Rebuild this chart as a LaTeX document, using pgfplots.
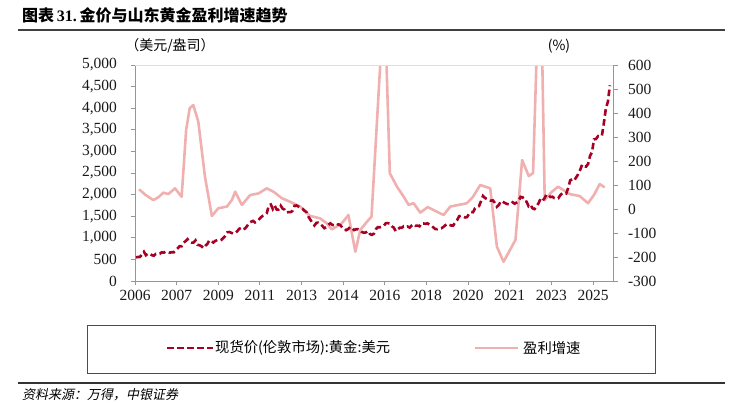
\documentclass[border=0pt]{standalone}
\usepackage{fontspec}
\setmainfont{Liberation Serif}
\newfontfamily\cjk{Noto Sans CJK SC}
\newfontfamily\cjkit{Noto Sans CJK SC}[FakeSlant=0.2]
\usepackage{pgfplots}
\usepackage{pgfplotstable}
\pgfplotsset{compat=1.18}
\definecolor{goldred}{RGB}{166,0,36}
\definecolor{pinkl}{RGB}{240,176,176}
\definecolor{axgray}{RGB}{150,150,150}

\pgfplotstableread[row sep=\\]{
p\\
549\\555\\557\\610\\676\\596\\633\\632\\598\\585\\627\\629\\
631\\665\\655\\680\\668\\656\\665\\665\\712\\754\\806\\803\\
889\\922\\968\\909\\888\\889\\940\\839\\829\\806\\760\\816\\
858\\943\\924\\890\\928\\946\\934\\949\\996\\1043\\1127\\1134\\
1118\\1095\\1113\\1148\\1205\\1232\\1193\\1215\\1271\\1342\\1370\\1391\\
1356\\1372\\1424\\1474\\1510\\1528\\1572\\1756\\1772\\1665\\1739\\1652\\
1656\\1742\\1673\\1650\\1585\\1596\\1594\\1626\\1744\\1747\\1721\\1688\\
1670\\1627\\1593\\1487\\1414\\1343\\1286\\1347\\1349\\1316\\1275\\1222\\
1244\\1300\\1336\\1299\\1288\\1279\\1311\\1296\\1239\\1222\\1176\\1200\\
1251\\1227\\1179\\1198\\1199\\1181\\1131\\1117\\1125\\1156\\1086\\1068\\
1097\\1200\\1246\\1242\\1260\\1276\\1337\\1341\\1326\\1267\\1236\\1152\\
1192\\1234\\1231\\1266\\1246\\1260\\1236\\1283\\1315\\1280\\1283\\1265\\
1331\\1331\\1325\\1335\\1303\\1282\\1238\\1202\\1199\\1215\\1221\\1250\\
1291\\1320\\1300\\1285\\1284\\1359\\1413\\1500\\1511\\1495\\1471\\1480\\
1560\\1597\\1592\\1683\\1716\\1732\\1847\\1968\\1921\\1900\\1866\\1858\\
1867\\1808\\1718\\1760\\1850\\1834\\1807\\1785\\1776\\1777\\1821\\1790\\
1817\\1856\\1948\\1937\\1849\\1836\\1732\\1765\\1681\\1665\\1726\\1798\\
1898\\1855\\1913\\2000\\1992\\1943\\1951\\1918\\1916\\1916\\1986\\2030\\
2034\\2024\\2159\\2331\\2353\\2326\\2398\\2472\\2571\\2692\\2651\\2648\\
2709\\2895\\2983\\3280\\3287\\3352\\3340\\3368\\3665\\4000\\4150\\4530\\
}\goldtab

\pgfplotstableread{
x y
2006.17 82
2006.45 58
2006.77 37
2007.00 50
2007.19 68
2007.40 62
2007.68 86
2007.96 51
2008.15 330
2008.30 420
2008.45 433
2008.66 364
2008.94 135
2009.23 -29
2009.50 3
2009.86 10
2010.07 37
2010.21 72
2010.49 17
2010.84 58
2011.19 65
2011.54 86
2011.82 72
2012.17 45
2012.52 30
2012.94 10
2013.36 -29
2013.78 -39
2014.06 -60
2014.27 -85
2014.69 -60
2014.97 -25
2015.26 -178
2015.47 -87
2015.75 -53
2015.94 -32
2016.48 900
2016.71 149
2017.01 93
2017.30 50
2017.50 17
2017.71 24
2017.99 -15
2018.30 8
2018.97 -25
2019.25 10
2019.95 24
2020.20 50
2020.51 100
2020.93 86
2021.21 -157
2021.49 -220
2021.99 -129
2022.27 204
2022.55 137
2022.73 150
2022.99 1000
2023.05 1000
2023.22 37
2023.50 70
2023.78 93
2024.27 62
2024.69 54
2025.04 24
2025.30 60
2025.53 104
2025.74 90
}\profittab

\pgfplotsset{
  common/.style={
    at={(135pt,122pt)}, anchor=south west,
    scale only axis, width=478pt, height=216pt,
    xmin=2006, xmax=2026.09,
    tick align=outside, major tick length=4.5pt,
    axis line style={axgray, line width=0.9pt, -},
    every tick/.style={axgray, line width=0.9pt},
    ticklabel style={font=\fontsize{15.5}{16}\selectfont, text=black!90},
    /pgf/number format/assume math mode=true,
    /pgf/number format/1000 sep={,},
    scaled y ticks=false,
  }
}

\begin{document}
\begin{tikzpicture}[x=1pt,y=1pt]
\path[use as bounding box] (0,0) rectangle (730,403);

\begin{axis}[common,
  ymin=-300, ymax=600, ytick={-300,-200,...,600},
  axis y line*=right, axis x line=none,
  yticklabel style={xshift=7pt},
]
\addplot[pinkl, line width=2.6pt, line join=round] table {\profittab};
\end{axis}

\begin{axis}[common,
  ymin=0, ymax=5000, ytick={0,500,...,5000},
  axis x line*=bottom, axis y line*=left,
  xtick={2006,2007.75,2009.5,2011.25,2013,2014.75,2016.5,2018.25,2020,2021.75,2023.5,2025.25},
  xticklabels={2006,2007,2009,2011,2013,2014,2016,2018,2020,2021,2023,2025},
  yticklabel style={xshift=-10pt},
  xticklabel style={yshift=-1pt},
]
\draw[gray!25, line width=0.8pt] (rel axis cs:0,1) -- (rel axis cs:1,1);
\addplot[goldred, line width=2.6pt, dash pattern=on 6.5pt off 3.5pt] table[x expr={2006+(\coordindex+0.5)/12}, y=p] {\goldtab};
\end{axis}

% title
\node[anchor=west, inner sep=0pt] at (22,388) {\fontsize{16}{18}\selectfont{\cjk\bfseries 图表}\,{\bfseries 31.}\,{\cjk\bfseries 金价与山东黄金盈利增速趋势}};
\draw[line width=1.2pt, black!75] (18,373) -- (725,373);
% unit labels
\node[inner sep=0pt] at (170,357) {\fontsize{14}{16}\selectfont\cjk （美元/盎司）};
\node[inner sep=0pt] at (559,357) {\fontsize{14}{16}\selectfont\cjk (\%)};
% legend
\draw[black!70, line width=0.8pt] (87,30) rectangle (655,78);
\draw[goldred, line width=2.6pt, dash pattern=on 6.5pt off 3.5pt] (167,55) -- (213,55);
\node[anchor=west, inner sep=0pt] at (215,55) {\fontsize{14.3}{16}\selectfont\cjk 现货价(伦敦市场):黄金:美元};
\draw[pinkl, line width=2.6pt] (475,55) -- (518,55);
\node[anchor=west, inner sep=0pt] at (523,55) {\fontsize{14.3}{16}\selectfont\cjk 盈利增速};
% source
\draw[line width=1.2pt, black!80] (18,20) -- (725,20);
\node[anchor=west, inner sep=0pt] at (22,8) {\fontsize{13}{15}\selectfont\cjkit 资料来源：万得，中银证券};
\end{tikzpicture}
\end{document}
